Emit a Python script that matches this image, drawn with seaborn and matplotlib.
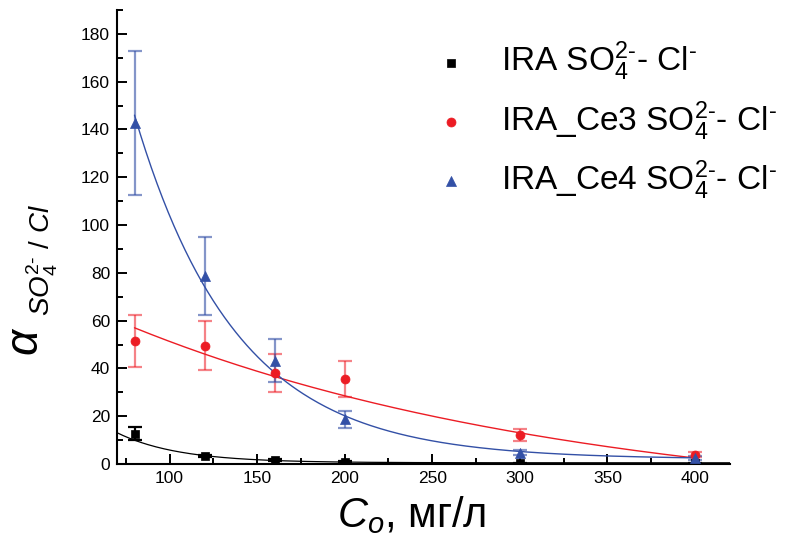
import numpy as np
import pandas as pd
import matplotlib
matplotlib.use("Agg")
import matplotlib.pyplot as plt
import seaborn as sns

# ---- data ----
conc = [80, 120, 160, 200, 300, 400]
ira = [12.7, 3.3, 1.7, 1.0, 0.4, 0.3]
ira_err = [2.8, 0.5, 0.4, 0.3, 0.2, 0.2]
ce3 = [51.5, 49.5, 38.2, 35.6, 12.3, 3.9]
ce3_err = [10.7, 10.3, 8.0, 7.4, 2.5, 1.0]
ce4 = [142.7, 78.7, 43.2, 18.7, 4.8, 2.5]
ce4_err = [30.0, 16.5, 9.0, 3.6, 1.2, 1.0]

labels = [r"IRA SO$_4^{2\text{-}}$- Cl$^{\text{-}}$",
          r"IRA_Ce3 SO$_4^{2\text{-}}$- Cl$^{\text{-}}$",
          r"IRA_Ce4 SO$_4^{2\text{-}}$- Cl$^{\text{-}}$"]

# exponential-decay fit parameters (y0, A, x0, t, x_start, x_end)
fit_ira = (0.5, 12.6, 70, 35, 70, 420)
fit_ce3 = (-20.0, 77.0, 80, 260, 80, 400)
fit_ce4 = (2.0, 144.0, 80, 58, 80, 400)

x_ticks = [100, 150, 200, 250, 300, 350, 400]
y_ticks = [0, 20, 40, 60, 80, 100, 120, 140, 160, 180]

# ---- style ----
sns.set_theme(style="ticks")
plt.rcParams["font.family"] = ["Liberation Sans", "DejaVu Sans"]
plt.rcParams["mathtext.fontset"] = "custom"
plt.rcParams["mathtext.rm"] = "Liberation Sans"
plt.rcParams["mathtext.it"] = "Liberation Sans:italic"
plt.rcParams["mathtext.bf"] = "Liberation Sans:bold"
plt.rcParams["xtick.direction"] = "in"
plt.rcParams["ytick.direction"] = "in"
plt.rcParams["text.color"] = "black"
plt.rcParams["axes.labelcolor"] = "black"
plt.rcParams["xtick.color"] = "black"
plt.rcParams["ytick.color"] = "black"

black = "#000000"
red = "#ec1c24"
blue = "#3350a6"

W, H = 788, 548
fig = plt.figure(figsize=(W / 100, H / 100), dpi=100)
ax = fig.add_axes([117 / W, (H - 464) / H, (730 - 117) / W, (464 - 10) / H])

def curve(p, n=300):
    y0, A, x0, t, xs, xe = p
    xx = np.linspace(xs, xe, n)
    return xx, y0 + A * np.exp(-(xx - x0) / t)

series = [
    (ira, ira_err, black, black, "s", 40, fit_ira, 0.9),
    (ce3, ce3_err, red, (0.93, 0.11, 0.14, 0.55), "o", 42, fit_ce3, 1.0),
    (ce4, ce4_err, blue, (0.2, 0.31, 0.65, 0.6), "^", 52, fit_ce4, 1.0),
]

for (vals, err, col, ecol, mk, ms, fit, lw), lab in zip(series, labels):
    ax.errorbar(conc, vals, yerr=err, fmt="none", ecolor=ecol,
                elinewidth=1.6, capsize=5, capthick=1.6, zorder=2)
    xx, yy = curve(fit)
    sns.lineplot(x=xx, y=yy, ax=ax, color=col, lw=lw, zorder=3, legend=False)
    df = pd.DataFrame({"c": conc, "v": vals})
    sns.scatterplot(data=df, x="c", y="v", ax=ax, color=col, marker=mk, s=ms,
                    edgecolor=col, linewidth=0.5, zorder=4, label=lab)

ax.set_xlim(70, 420)
ax.set_ylim(0, 190)
ax.set_xticks(x_ticks)
ax.set_yticks(y_ticks)
ax.set_xticks(np.arange(75, 420, 50), minor=True)
ax.set_yticks(np.arange(10, 191, 20), minor=True)
ax.tick_params(which="major", direction="in", length=7, width=1.4,
               labelsize=12.5, colors="black", pad=5)
ax.tick_params(which="minor", direction="in", length=4, width=1.4, colors="black")
for s in ["top", "right"]:
    ax.spines[s].set_visible(False)
for s in ["left", "bottom"]:
    ax.spines[s].set_linewidth(1.5)
    ax.spines[s].set_color("black")

ax.set_xlabel(r"$C_o$, мг/л", fontsize=30, color="black")
ax.xaxis.set_label_coords((412 - 117) / 613, (464 - 494) / 454)
ax.set_ylabel("")

# y label: big alpha with smaller italic subscript
fig.text(38 / W, 1 - 356 / H, r"$\alpha$", fontsize=33, rotation=90,
         rotation_mode="anchor", ha="left", va="baseline", color="black")
fig.text(51 / W, 1 - 316 / H, r"$SO_4^{2\text{-}}\ /\ Cl$", fontsize=20, rotation=90,
         rotation_mode="anchor", ha="left", va="baseline", color="black")

leg = ax.legend(loc="upper left", bbox_to_anchor=((418 - 117) / 613, (464 - 40) / 454),
                frameon=False, fontsize=24, handletextpad=0.5, handlelength=2.0,
                labelspacing=0.47, markerscale=1.0, borderaxespad=0, borderpad=0)
for t in leg.get_texts():
    t.set_color("black")

fig.savefig("out.png", dpi=100)
